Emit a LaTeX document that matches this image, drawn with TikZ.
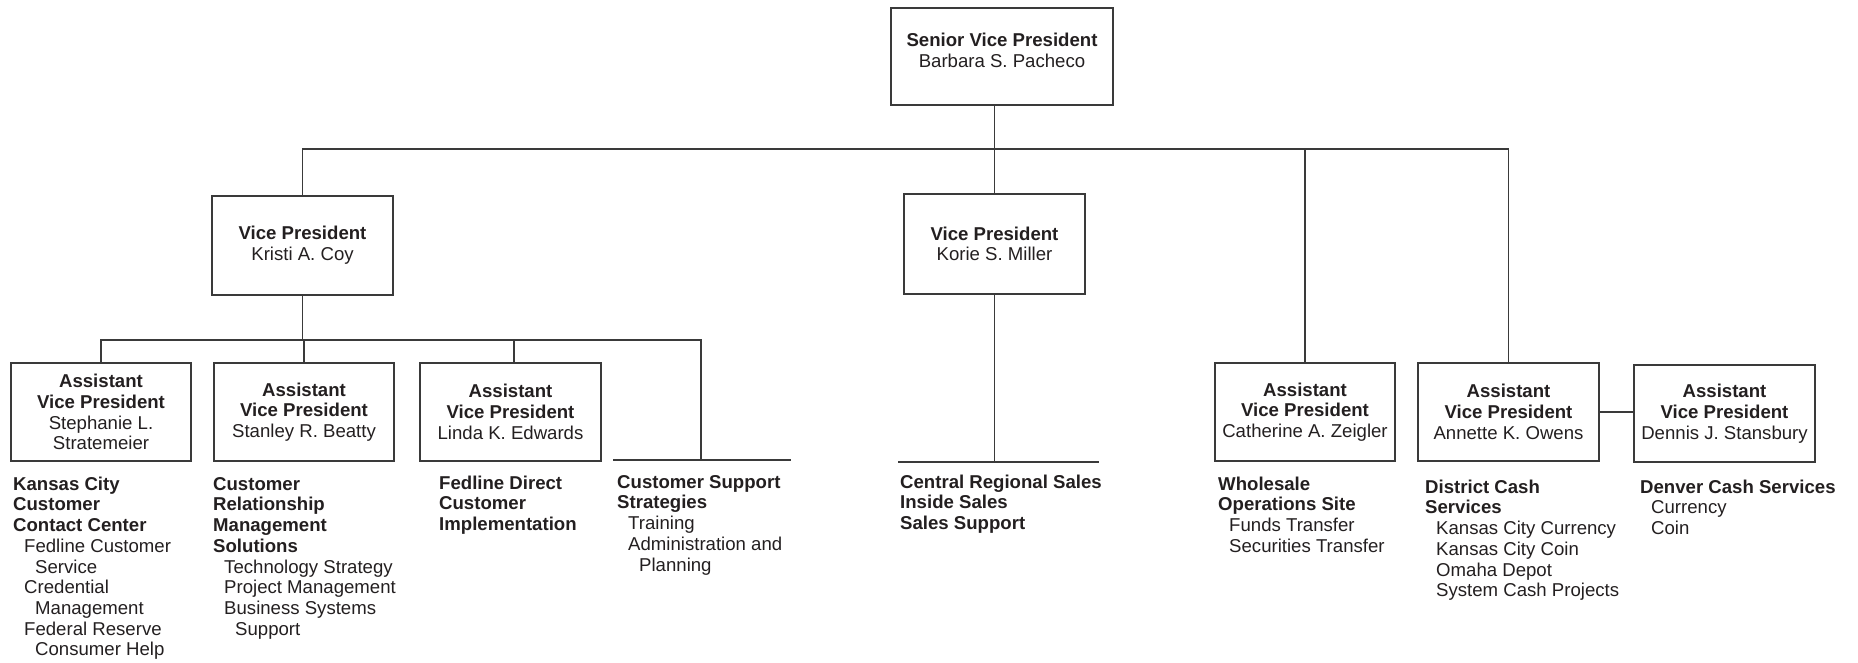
\documentclass[tikz,border=0pt]{standalone}
\usepackage{fontspec}
\setmainfont{Liberation Sans}
\definecolor{ln}{HTML}{3A3A3A}
\definecolor{txt}{HTML}{231F20}
\newcommand\fsz{\fontsize{18.6}{20.7}\selectfont}
\newcommand\ia{\hspace*{11pt}}
\newcommand\ib{\hspace*{22pt}}
\newcommand\fl{\rule{0pt}{14pt}}
\tikzset{
  box/.style={draw=ln, line width=1.5pt, inner sep=0pt, align=center, font=\fsz, text=txt,
    minimum width=181pt, minimum height=98pt},
  blk/.style={anchor=north west, inner sep=0pt, align=left, font=\fsz, text=txt},
  conn/.style={draw=ln, line width=1.5pt, line join=miter}
}
\begin{document}
\begin{tikzpicture}[x=1pt,y=-1pt]
\useasboundingbox (0,0) rectangle (1858,663);
% boxes
\node[box, minimum width=222pt, minimum height=97pt] (senior) at (1002,56.5)
  {\textbf{Senior Vice President}\\Barbara S. Pacheco\rule[-13pt]{0pt}{13pt}};
\node[box, minimum height=99pt] (kristi) at (302.5,245.5) {\textbf{Vice President}\\Kristi A. Coy};
\node[box, minimum height=100pt] (korie) at (994.5,244) {\textbf{Vice President}\\Korie S. Miller};
\node[box, minimum width=180pt] (stephanie) at (101,412)
  {\textbf{Assistant}\\\textbf{Vice President}\\Stephanie L.\\Stratemeier};
\node[box, minimum width=180pt] (stanley) at (304,412)
  {\textbf{Assistant}\\\textbf{Vice President}\\Stanley R. Beatty};
\node[box] (linda) at (510.5,412)
  {\textbf{Assistant}\\\textbf{Vice President}\\Linda K. Edwards};
\node[box, minimum width=180pt] (catherine) at (1305,412)
  {\textbf{Assistant}\\\textbf{Vice President}\\Catherine A. Zeigler};
\node[box] (annette) at (1508.5,412)
  {\textbf{Assistant}\\\textbf{Vice President}\\Annette K. Owens};
\node[box, minimum height=97pt] (dennis) at (1724.5,413.5)
  {\textbf{Assistant}\\\textbf{Vice President}\\Dennis J. Stansbury};
% text blocks
\node[blk] (kc) at (13,476) {\fl\textbf{Kansas City}\\\textbf{Customer}\\\textbf{Contact Center}\\
  \ia Fedline Customer\\\ib Service\\\ia Credential\\\ib Management\\\ia Federal Reserve\\\ib Consumer Help};
\node[blk] (crm) at (213,476) {\fl\textbf{Customer}\\\textbf{Relationship}\\\textbf{Management}\\\textbf{Solutions}\\
  \ia Technology Strategy\\\ia Project Management\\\ia Business Systems\\\ib Support};
\node[blk] (fdci) at (439,475) {\fl\textbf{Fedline Direct}\\\textbf{Customer}\\\textbf{Implementation}};
\node[blk] (css) at (617,474) {\fl\textbf{Customer Support}\\\textbf{Strategies}\\\ia Training\\\ia Administration and\\\ib Planning};
\node[blk] (central) at (900,474) {\fl\textbf{Central Regional Sales}\\\textbf{Inside Sales}\\\textbf{Sales Support}};
\node[blk] (wholesale) at (1218,476) {\fl\textbf{Wholesale}\\\textbf{Operations Site}\\\ia Funds Transfer\\\ia Securities Transfer};
\node[blk] (district) at (1425,479) {\fl\textbf{District Cash}\\\textbf{Services}\\\ia Kansas City Currency\\\ia Kansas City Coin\\\ia Omaha Depot\\\ia System Cash Projects};
\node[blk] (denver) at (1640,479) {\fl\textbf{Denver Cash Services}\\\ia Currency\\\ia Coin};
% coordinates
\coordinate (bus) at (0,149);
\coordinate (sbus) at (0,340);
\coordinate (cssv) at (701,460);
\coordinate (cssl) at (613,460);
\coordinate (cssr) at (791,460);
\coordinate (centl) at (898,462);
\coordinate (centr) at (1099,462);
% connectors
\draw[conn] (senior.south -| korie.north) -- (korie.north);
\draw[conn] (kristi.north) |- (bus -| annette.north) -- (annette.north);
\draw[conn] (catherine.north) -- (catherine.north |- bus);
\draw[conn] (kristi.south) -- (kristi.south |- sbus);
\draw[conn] (stephanie.north) |- (sbus -| cssv) -- (cssv);
\draw[conn] (stanley.north) -- (stanley.north |- sbus);
\draw[conn] ([xshift=3.5pt]linda.north) -- ([xshift=3.5pt]linda.north |- sbus);
\draw[conn] (cssl) -- (cssr);
\draw[conn] (korie.south) -- (korie.south |- centl);
\draw[conn] (centl) -- (centr);
\draw[conn] (annette.east) -- (dennis.west |- annette.east);
\end{tikzpicture}
\end{document}
